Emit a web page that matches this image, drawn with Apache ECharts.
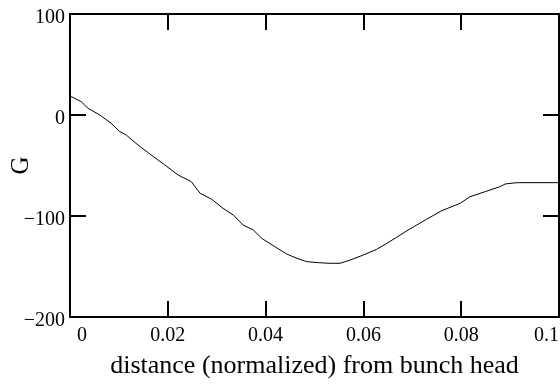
<!DOCTYPE html>
<html><head><meta charset="utf-8">
<script src="https://cdn.jsdelivr.net/npm/echarts@6/dist/echarts.min.js"></script>
<style>html,body{margin:0;padding:0;background:#fff}#c{width:560px;height:386px}</style>
</head><body><div id="c"></div>
<script>
var distance = [0, 0.0003, 0.0023, 0.0037, 0.0061, 0.0084, 0.0102, 0.0115, 0.0139, 0.0166, 0.0194, 0.0221, 0.0248, 0.0266, 0.0290, 0.0313, 0.0334, 0.0354, 0.0375, 0.0392, 0.0419, 0.0443, 0.0464, 0.0484, 0.0508, 0.0530, 0.0552, 0.0573, 0.0600, 0.0627, 0.0648, 0.0668, 0.0689, 0.0709, 0.0729, 0.0760, 0.0798, 0.0818, 0.0849, 0.0879, 0.0890, 0.0910, 0.0920, 0.1000];
var G = [18.8, 18.1, 13.2, 6.6, 0, -8.2, -16.5, -19.8, -29.7, -39.6, -49.5, -59.4, -66.0, -77.5, -83.5, -92.4, -99.0, -108.9, -113.9, -122.1, -130.4, -137.6, -141.9, -145.2, -146.2, -146.8, -146.8, -143.6, -138.6, -133.0, -127.0, -121.1, -114.6, -108.9, -103.3, -94.8, -87.4, -80.9, -75.9, -71.0, -68.3, -67.2, -67.0, -67.0];
var xTicks = [0, 0.02, 0.04, 0.06, 0.08, 0.1];
var yTicks = [-200, -100, 0, 100];
var xTitle = 'distance (normalized) from bunch head';
var yTitle = 'G';

var font = 'Liberation Serif';
var pts = distance.map(function(d, i){ return [d, G[i]]; });
var axisLineStyle = {color: '#000', width: 2};
var chart = echarts.init(document.getElementById('c'));
chart.setOption({
  animation: false,
  backgroundColor: '#fff',
  grid: {left: 70, right: 1, top: 14, bottom: 69, containLabel: false, outerBoundsMode: 'none'},
  xAxis: [{
    type: 'value', min: xTicks[0], max: xTicks[xTicks.length-1], interval: 0.02,
    position: 'bottom',
    axisLine: {show: true, onZero: false, lineStyle: axisLineStyle},
    axisTick: {show: true, inside: true, length: 16, lineStyle: axisLineStyle},
    splitLine: {show: false},
    axisLabel: {
      fontFamily: font, fontSize: 20, color: '#000', margin: 9,
      alignMaxLabel: 'right',
      formatter: function(v){ return v === 0 ? '{first|0}' : String(+v.toFixed(2)); },
      rich: {first: {fontFamily: font, fontSize: 20, color: '#000', padding: [0,0,0,24]}}
    },
    name: xTitle, nameLocation: 'middle', nameGap: 36, nameMoveOverlap: false,
    nameTextStyle: {fontFamily: font, fontSize: 26, color: '#000'}
  }, {
    type: 'value', min: xTicks[0], max: xTicks[xTicks.length-1], interval: 0.02,
    position: 'top',
    axisLine: {show: true, onZero: false, lineStyle: axisLineStyle},
    axisTick: {show: true, inside: true, length: 16, lineStyle: axisLineStyle},
    splitLine: {show: false}, axisLabel: {show: false}
  }],
  yAxis: [{
    type: 'value', min: yTicks[0], max: yTicks[yTicks.length-1], interval: 100,
    position: 'left',
    axisLine: {show: true, onZero: false, lineStyle: axisLineStyle},
    axisTick: {show: true, inside: true, length: 16, lineStyle: axisLineStyle},
    splitLine: {show: false},
    axisLabel: {
      fontFamily: font, fontSize: 20, color: '#000', margin: 5,
      formatter: function(v){ return '{n|' + String(v).replace('-', '\u2212') + '}'; },
      rich: {n: {fontFamily: font, fontSize: 20, color: '#000', padding: [8,0,0,0]}}
    },
    name: yTitle, nameLocation: 'middle', nameGap: 36, nameRotate: 90, nameMoveOverlap: false,
    nameTextStyle: {fontFamily: font, fontSize: 25, color: '#000'}
  }, {
    type: 'value', min: yTicks[0], max: yTicks[yTicks.length-1], interval: 100,
    position: 'right',
    axisLine: {show: true, onZero: false, lineStyle: axisLineStyle},
    axisTick: {show: true, inside: true, length: 16, lineStyle: axisLineStyle},
    splitLine: {show: false}, axisLabel: {show: false}
  }],
  series: [{
    type: 'line', data: pts, showSymbol: false, symbol: 'none',
    xAxisIndex: 0, yAxisIndex: 0,
    lineStyle: {color: '#000', width: 1}
  }]
});
</script></body></html>
